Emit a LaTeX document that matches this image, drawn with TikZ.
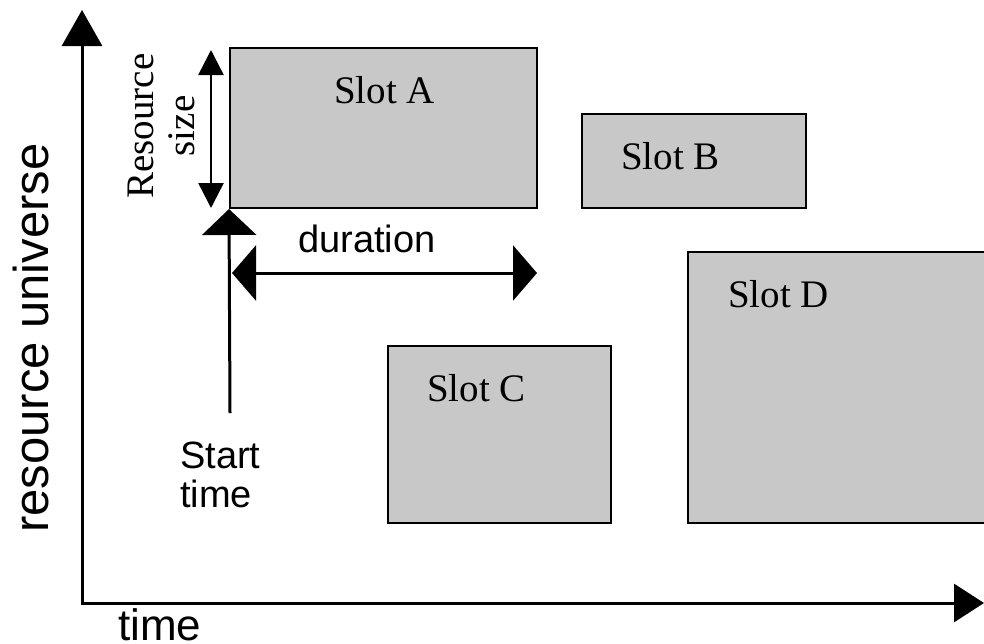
\documentclass[tikz,border=0pt]{standalone}
\usepackage{fontspec}
\setmainfont{Liberation Serif}
\setsansfont{Liberation Sans}
\usetikzlibrary{arrows.meta}
\definecolor{slotgray}{RGB}{200,200,200}

\begin{document}
\begin{tikzpicture}[x=1pt,y=-1pt,
    slot/.style={draw, line width=2pt, fill=slotgray, inner sep=0pt},
    slotname/.style={anchor=base west, inner sep=0pt, font=\fontsize{39}{41}\selectfont},
    sanstext/.style={inner sep=0pt, font=\sffamily\fontsize{38}{39}\selectfont},
    axistext/.style={inner sep=0pt, font=\sffamily\fontsize{49}{50}\selectfont}]
      \useasboundingbox (0,0) rectangle (984,643);
      \coordinate (ytop) at (82,10);
      \coordinate (origin) at (82,603);
      \coordinate (xend) at (984,603);
      \draw [line width=3pt, line join=miter, {Triangle[length=36pt,width=40pt]}-{Triangle[length=30pt,width=38pt]}] (ytop) -- (origin) -- (xend);
      \node [axistext, rotate=90] (ylabel) at (31,338) {resource universe};
      \node [axistext, anchor=base west, font=\sffamily\fontsize{44}{45}\selectfont] (xlabel) at (118,640) {time};
      \node [slot, minimum width=307pt, minimum height=160pt] (slotA) at (383.5,128) {};
      \node [slotname] (nameA) at (334,103) {Slot A};
      \node [slot, minimum width=224pt, minimum height=94pt] (slotB) at (694,161) {};
      \node [slotname] (nameB) at (621,169) {Slot B};
      \node [slot, minimum width=223pt, minimum height=177pt] (slotC) at (499.5,434.5) {};
      \node [slotname] (nameC) at (427,401) {Slot C};
      \node [slot, minimum width=300pt, minimum height=271pt] (slotD) at (838,387.5) {};
      \node [slotname] (nameD) at (728,307) {Slot D};
      \coordinate (sizetop) at (211,50);
      \coordinate (sizebot) at (211,208);
      \draw [line width=2.5pt, {Triangle[length=25pt,width=25pt]}-{Triangle[length=25pt,width=25pt]}] (sizetop) -- (sizebot);
      \node [inner sep=0pt, rotate=90, align=center, font=\fontsize{39}{41}\selectfont] (sizetext) at (161,126) {Resource\\size};
      \coordinate (startfoot) at (230,413);
      \draw [line width=3pt, -{Triangle[length=26pt,width=54pt]}] (startfoot) -- (slotA.south west);
      \node [sanstext, anchor=north west, align=left] (starttext) at (180,442) {Start\\time};
      \coordinate (durleft) at (232,273);
      \coordinate (durright) at (537,273);
      \draw [line width=3pt, {Triangle[length=24pt,width=55pt]}-{Triangle[length=24pt,width=55pt]}] (durleft) -- (durright);
      \node [sanstext, anchor=base west] (durtext) at (298,252) {duration};
   \end{tikzpicture}
\end{document}
